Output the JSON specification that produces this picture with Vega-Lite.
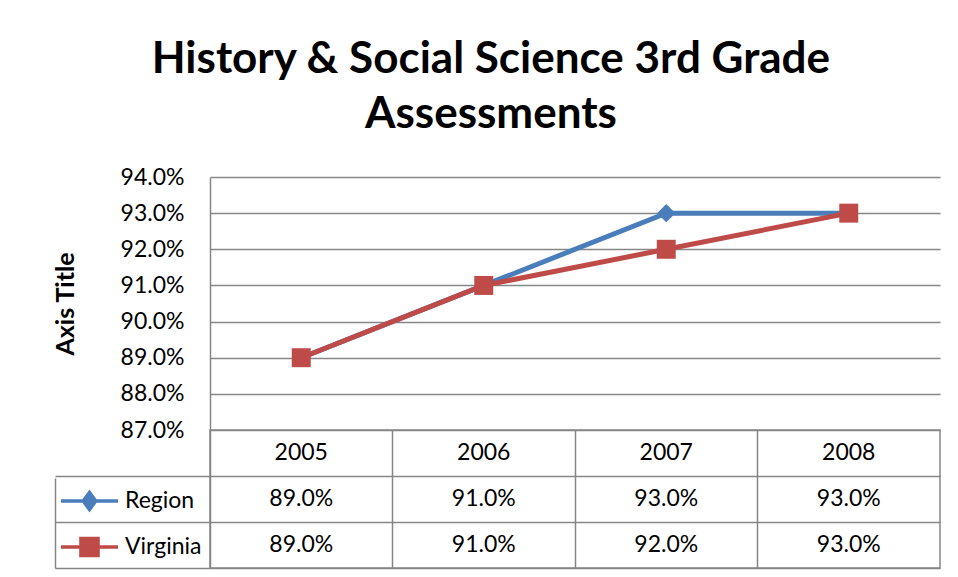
{
  "$schema": "https://vega.github.io/schema/vega-lite/v6.json",
  "background": "white",
  "padding": {"left": 53, "top": 38, "right": 14, "bottom": 9},
  "title": {
    "text": ["History & Social Science 3rd Grade", "Assessments"],
    "font": "Lato",
    "fontSize": 44,
    "fontWeight": "bold",
    "color": "black",
    "lineHeight": 55,
    "anchor": "middle",
    "dx": -6,
    "offset": 29
  },
  "data": {
    "values": [
      {"series": "Region", "year": "2005", "value": 0.89},
      {"series": "Region", "year": "2006", "value": 0.91},
      {"series": "Region", "year": "2007", "value": 0.93},
      {"series": "Region", "year": "2008", "value": 0.93},
      {"series": "Virginia", "year": "2005", "value": 0.89},
      {"series": "Virginia", "year": "2006", "value": 0.91},
      {"series": "Virginia", "year": "2007", "value": 0.92},
      {"series": "Virginia", "year": "2008", "value": 0.93}
    ]
  },
  "config": {
    "font": "Lato",
    "view": {"stroke": "#868686", "strokeWidth": 1.5}
  },
  "bounds": "flush",
  "spacing": 0,
  "vconcat": [
    {
      "width": 730,
      "height": 253,
      "view": {"stroke": null},
      "encoding": {
        "x": {
          "field": "year",
          "type": "ordinal",
          "scale": {"type": "point", "padding": 0.5},
          "axis": null
        },
        "y": {
          "field": "value",
          "type": "quantitative",
          "scale": {"domain": [0.87, 0.94], "nice": false, "zero": false},
          "axis": {
            "values": [0.87, 0.88, 0.89, 0.9, 0.91, 0.92, 0.93, 0.94],
            "format": ".1%",
            "labelFont": "Lato",
            "labelFontSize": 23,
            "labelColor": "black",
            "labelPadding": 26,
            "ticks": false,
            "domain": true,
            "domainColor": "#868686",
            "domainWidth": 1.5,
            "grid": true,
            "gridColor": "#868686",
            "gridWidth": 1.5,
            "title": "Axis Title",
            "titleFont": "Lato",
            "titleFontSize": 25,
            "titleFontWeight": "bold",
            "titleColor": "black",
            "titlePadding": 42
          }
        },
        "color": {
          "field": "series",
          "type": "nominal",
          "scale": {"domain": ["Region", "Virginia"], "range": ["#4a7ebb", "#be4b48"]},
          "legend": {
            "orient": "none",
            "legendX": -155,
            "legendY": 301,
            "title": null,
            "clipHeight": 46,
            "rowPadding": 0,
            "padding": 0,
            "labelFont": "Lato",
            "labelFontSize": 23,
            "labelColor": "black",
            "symbolSize": 3249,
            "symbolStrokeWidth": 3.5,
            "symbolOffset": 4,
            "labelOffset": 5,
            "encode": {
              "symbols": {
                "update": {
                  "shape": {"signal": "datum.value === 'Region' ? 'M-1,0L1,0M0,-0.3L0.22,0L0,0.3L-0.22,0Z' : 'M-1,0L1,0M-0.3,-0.3L0.3,-0.3L0.3,0.3L-0.3,0.3Z'"},
                  "fill": {"signal": "datum.value === 'Region' ? '#4a7ebb' : '#be4b48'"},
                  "stroke": {"signal": "datum.value === 'Region' ? '#4a7ebb' : '#be4b48'"},
                  "strokeWidth": {"value": 3.5},
                  "opacity": {"value": 1}
                }
              }
            }
          }
        }
      },
      "layer": [
        {"mark": {"type": "line", "strokeWidth": 5}},
        {
          "transform": [{"filter": "datum.series === 'Region'"}],
          "mark": {"type": "point", "filled": true, "size": 340, "opacity": 1, "shape": "diamond"}
        },
        {
          "transform": [{"filter": "datum.series === 'Virginia'"}],
          "mark": {"type": "point", "filled": true, "size": 360, "opacity": 1, "shape": "square"}
        }
      ]
    },
    {
      "width": 730,
      "height": 138,
      "encoding": {
        "x": {
          "field": "year",
          "type": "ordinal",
          "scale": {"type": "band", "paddingInner": 0, "paddingOuter": 0},
          "axis": {
            "orient": "top",
            "title": null,
            "labels": false,
            "ticks": false,
            "domain": false,
            "grid": true,
            "bandPosition": 0,
            "gridColor": "#868686",
            "gridWidth": 1.5
          }
        }
      },
      "resolve": {"scale": {"y": "shared"}},
      "layer": [
        {
          "transform": [{"filter": "datum.series === 'Region'"}],
          "mark": {"type": "text", "font": "Lato", "fontSize": 23, "color": "black"},
          "encoding": {
            "y": {
              "datum": "year",
              "type": "nominal",
              "scale": {"type": "band", "domain": ["year", "Region", "Virginia"], "paddingInner": 0, "paddingOuter": 0},
              "axis": {
                "title": null,
                "labels": false,
                "bandPosition": 1,
                "offset": 155,
                "tickSize": -155,
                "tickColor": "#868686",
                "tickWidth": 1.5,
                "domain": true,
                "domainColor": "#868686",
                "domainWidth": 1.5,
                "domainDash": [0, 48, 90, 0],
                "grid": true,
                "gridColor": "#868686",
                "gridWidth": 1.5
              }
            },
            "text": {"field": "year", "type": "nominal"}
          }
        },
        {
          "mark": {"type": "text", "font": "Lato", "fontSize": 23, "color": "black"},
          "encoding": {
            "y": {"field": "series", "type": "nominal"},
            "text": {"field": "value", "type": "quantitative", "format": ".1%"}
          }
        }
      ]
    }
  ]
}
